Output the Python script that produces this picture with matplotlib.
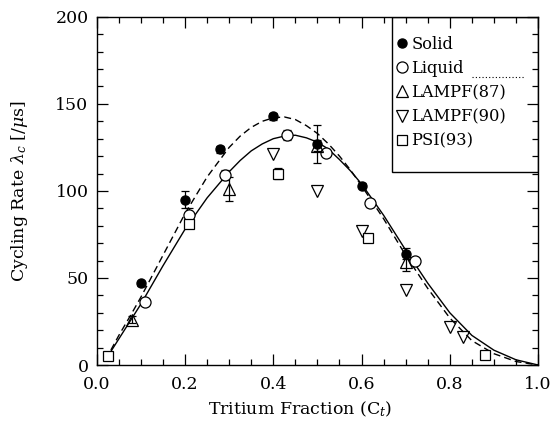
import matplotlib.pyplot as plt
from matplotlib.lines import Line2D
from matplotlib.patches import Rectangle
from matplotlib.ticker import MultipleLocator

plt.rcParams['font.family'] = ['DejaVu Serif']
plt.rcParams['mathtext.fontset'] = 'dejavuserif'

# Fast stoff (fylte sirkler)
solid_x = [0.10, 0.20, 0.28, 0.40, 0.50, 0.60, 0.70]
solid_y = [47, 95, 124, 143, 127, 103, 64]
solid_err = [1.5, 5, 2, 2, 11, 1.5, 3]

# Væske (åpne sirkler)
liquid_x = [0.11, 0.21, 0.29, 0.43, 0.52, 0.62, 0.72]
liquid_y = [36, 86, 109, 132, 122, 93, 60]
liquid_err = [1.5, 4, 3, 3, 2, 2, 1.5]

lampf87_x = [0.08, 0.30, 0.50, 0.70]
lampf87_y = [26, 101, 126, 59]
lampf87_err = [2, 7, 3, 5]

lampf90_x = [0.40, 0.50, 0.60, 0.70, 0.80, 0.83]
lampf90_y = [121, 100, 77, 43, 22, 16]

psi_x = [0.025, 0.21, 0.41, 0.615, 0.88]
psi_y = [5, 81, 110, 73, 5.5]
psi_err = [0.5, 1, 3, 1, 0.5]

# Tilpassede kurver, lest av bildet
curve_x = [0.02, 0.05, 0.08, 0.10, 0.15, 0.20, 0.25, 0.30, 0.325, 0.35,
           0.375, 0.40, 0.425, 0.45, 0.475, 0.50, 0.525, 0.55, 0.575, 0.60,
           0.65, 0.70, 0.75, 0.80, 0.85, 0.90, 0.95, 1.00]
fit_liquid = [3, 15, 27, 35, 57, 78, 96, 111, 117.5, 123,
              127, 130, 131.5, 132, 130.5, 128, 124, 118, 111.5, 104,
              86, 66, 47, 30, 17, 8.5, 3, 0]
fit_solid = [3, 17, 30, 39, 63, 87, 108, 125, 131.5, 136.5,
             140, 142, 142.5, 141, 137.5, 133, 127, 120, 112, 103,
             84, 63, 44, 27, 14, 6.5, 2, 0]

fig = plt.figure(figsize=(5.53, 4.21), dpi=100)
ax = fig.add_axes([0.175, 0.133, 0.798, 0.827])

ax.plot(curve_x, fit_liquid, color='black', lw=1.0)
ax.plot(curve_x, fit_solid, color='black', lw=1.0, ls=(0, (5, 3)))

eb = dict(color='black', capsize=3, elinewidth=0.9, capthick=0.9, ls='none')
ax.errorbar(solid_x, solid_y, yerr=solid_err, fmt='o', ms=6.5,
            mfc='black', mec='black', **eb)
ax.errorbar(liquid_x, liquid_y, yerr=liquid_err, fmt='o', ms=8,
            mfc='white', mec='black', mew=0.9, **eb)
ax.errorbar(lampf87_x, lampf87_y, yerr=lampf87_err, fmt='^', ms=9,
            mfc='none', mec='black', mew=0.9, **eb)
ax.plot(lampf90_x, lampf90_y, 'v', ms=9, mfc='none', mec='black',
        mew=0.9, ls='none')
ax.errorbar(psi_x, psi_y, yerr=psi_err, fmt='s', ms=6.5,
            mfc='white', mec='black', mew=0.9, **eb)

ax.set_xlim(0, 1.0)
ax.set_ylim(0, 200)
ax.xaxis.set_major_locator(MultipleLocator(0.2))
ax.xaxis.set_minor_locator(MultipleLocator(0.05))
ax.yaxis.set_major_locator(MultipleLocator(50))
ax.yaxis.set_minor_locator(MultipleLocator(10))
ax.xaxis.set_major_formatter(plt.FuncFormatter(lambda v, p: f"{v:.1f}"))
ax.tick_params(which='both', direction='in', top=True, right=True,
               labelsize=12.5, width=0.9)
ax.tick_params(which='major', length=8)
ax.tick_params(which='minor', length=4)
ax.tick_params(axis='x', pad=8)
ax.tick_params(axis='y', pad=6)
for s in ax.spines.values():
    s.set_linewidth(1.0)

ax.set_xlabel(r"Tritium Fraction (C$_t$)", fontsize=12.5)
ax.xaxis.set_label_coords(0.46, -0.1)
ax.set_ylabel(r"Cycling Rate $\lambda_c$ [/$\mu$s]", fontsize=12.5,
              labelpad=18)

# Legendeboks
ax.add_patch(Rectangle((0.669, 0.555), 0.331, 0.445, transform=ax.transAxes,
                       fill=False, edgecolor='black', lw=1.0, zorder=5))
ax.plot([0.85, 0.97], [0.828, 0.828], transform=ax.transAxes, color='black',
        lw=0.8, ls=(0, (1, 2)), zorder=5)
handles = [
    Line2D([], [], marker='o', ms=6.5, mfc='black', mec='black', ls='none'),
    Line2D([], [], marker='o', ms=8, mfc='white', mec='black', mew=0.9, ls='none'),
    Line2D([], [], marker='^', ms=9, mfc='none', mec='black', mew=0.9, ls='none'),
    Line2D([], [], marker='v', ms=9, mfc='none', mec='black', mew=0.9, ls='none'),
    Line2D([], [], marker='s', ms=6.5, mfc='white', mec='black', mew=0.9, ls='none'),
]
ax.legend(handles, ["Solid", "Liquid", "LAMPF(87)", "LAMPF(90)", "PSI(93)"],
          loc='upper left', bbox_to_anchor=(0.665, 0.965), frameon=False,
          fontsize=11.7, handlelength=0.6, handletextpad=0.3,
          labelspacing=0.45, borderaxespad=0)

fig.savefig("out.png", dpi=100)
